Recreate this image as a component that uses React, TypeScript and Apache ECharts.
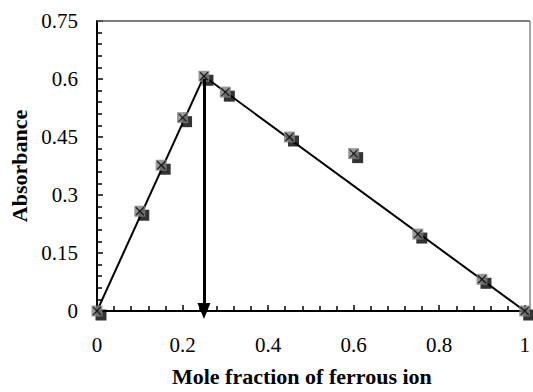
import React, { useEffect, useRef } from "react";
import * as echarts from "echarts";

const moleFraction = [0, 0.1, 0.15, 0.2, 0.25, 0.3, 0.45, 0.6, 0.75, 0.9, 1.0];
const absorbance = [0, 0.258, 0.377, 0.5, 0.607, 0.566, 0.45, 0.407, 0.199, 0.082, 0];
const risingLine = [[0, 0], [0.25, 0.607]];
const fallingLine = [[0.25, 0.607], [1, 0]];
const arrowFrom = [0.25, 0.6];
const arrowTo = [0.25, 0];
const xTicks = [0, 0.2, 0.4, 0.6, 0.8, 1];
const yTicks = [0, 0.15, 0.3, 0.45, 0.6, 0.75];

export default function App() {
  const ref = useRef<HTMLDivElement>(null);
  useEffect(() => {
    if (!ref.current) return;
    const chart = echarts.init(ref.current, null, { renderer: "svg" });
    const pts = moleFraction.map((x, i) => [x, absorbance[i]]);
    const font = "Liberation Serif";
    chart.setOption({
      animation: false,
      backgroundColor: "#ffffff",
      grid: { left: 97, right: 3, top: 21, bottom: 76, show: false },
      xAxis: {
        type: "value",
        min: xTicks[0],
        max: xTicks[xTicks.length - 1],
        interval: 0.2,
        name: "Mole fraction of ferrous ion",
        nameLocation: "middle",
        nameGap: 54,
        nameTextStyle: { fontFamily: font, fontWeight: "bold", fontSize: 22, color: "#000", padding: [0, 18, 0, 0] },
        axisLine: { show: true, lineStyle: { color: "#000", width: 2 } },
        axisTick: { show: true, inside: true, length: 6, lineStyle: { color: "#000", width: 1.5 } },
        minorTick: { show: true, splitNumber: 5, length: 5, lineStyle: { color: "#000", width: 1.5 } },
        axisLabel: { fontFamily: font, fontSize: 21, color: "#000", margin: 23, formatter: (v: number) => String(+v.toFixed(2)) },
        splitLine: { show: false },
      },
      yAxis: {
        type: "value",
        min: yTicks[0],
        max: yTicks[yTicks.length - 1],
        interval: 0.15,
        name: "Absorbance",
        nameLocation: "middle",
        nameGap: 66,
        nameTextStyle: { fontFamily: font, fontWeight: "bold", fontSize: 22, color: "#000" },
        axisLine: { show: true, lineStyle: { color: "#000", width: 2 } },
        axisTick: { show: true, inside: true, length: 6, lineStyle: { color: "#000", width: 1.5 } },
        minorTick: { show: true, splitNumber: 5, length: 5, lineStyle: { color: "#000", width: 1.5 } },
        axisLabel: { fontFamily: font, fontSize: 21, color: "#000", margin: 19, formatter: (v: number) => String(+v.toFixed(2)) },
        splitLine: { show: false },
      },
      graphic: [
        { type: "line", shape: { x1: 97, y1: 21, x2: 530, y2: 21 }, style: { stroke: "#555", lineWidth: 1.5 }, z: 1 },
        { type: "line", shape: { x1: 530, y1: 21, x2: 530, y2: 316 }, style: { stroke: "#888", lineWidth: 1.5 }, z: 1 },
      ],
      series: [
        {
          type: "line",
          data: risingLine,
          symbol: "none",
          lineStyle: { color: "#000", width: 2 },
          z: 2,
        },
        {
          type: "line",
          data: fallingLine,
          symbol: "none",
          lineStyle: { color: "#000", width: 2 },
          z: 2,
          markLine: {
            silent: true,
            symbol: ["none", "triangle"],
            symbolSize: [13, 16],
            symbolRotate: 180,
            label: { show: false },
            lineStyle: { color: "#000", width: 3, type: "solid" },
            data: [[{ coord: arrowFrom }, { coord: arrowTo }]],
          },
        },
        {
          type: "scatter",
          data: pts,
          symbol: "rect",
          symbolSize: 11,
          symbolOffset: [4, 4],
          itemStyle: { color: "#000" },
          clip: false,
          z: 3,
        },
        {
          type: "scatter",
          data: pts,
          symbol: "rect",
          symbolSize: 11,
          itemStyle: { color: "#808080" },
          clip: false,
          z: 4,
        },
        {
          type: "scatter",
          data: pts,
          symbol: "path://M0,0L10,10M10,0L0,10",
          symbolSize: 8,
          itemStyle: { color: "none", borderColor: "#000", borderWidth: 1.2 },
          clip: false,
          z: 5,
        },
      ],
    });
    return () => chart.dispose();
  }, []);
  return <div ref={ref} style={{ position: "fixed", left: 0, top: 0, width: 533, height: 392 }} />;
}
